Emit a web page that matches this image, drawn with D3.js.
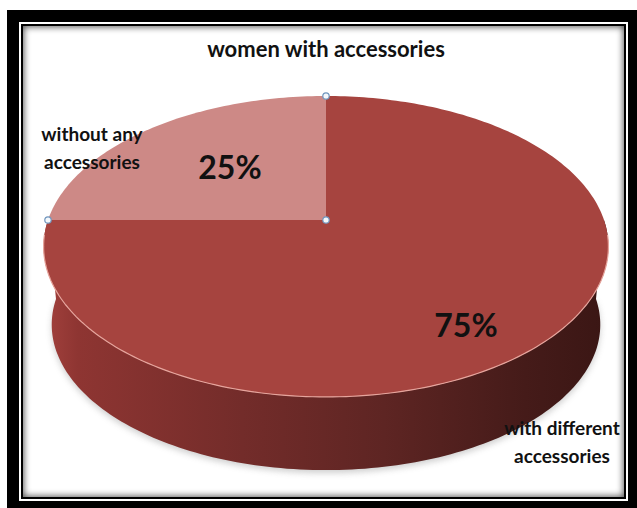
<!DOCTYPE html>
<meta charset="utf-8">
<style>
  body { margin: 0; background: #fff; }
  text { font-family: Lato, "Open Sans", sans-serif; font-weight: bold; fill: #111; }
</style>
<body>
<svg id="chart" width="637" height="508"></svg>
</body>
<script src="https://d3js.org/d3.v7.min.js"></script>
<script>

var categories = ["with different accessories", "without any accessories"];
var values = [75, 25];
var pctLabels = ["75%", "25%"];
var title = "women with accessories";

var svg = d3.select("#chart");
var defs = svg.append("defs");

// frame
svg.append("rect").attr("x", 7).attr("y", 10).attr("width", 630).attr("height", 498).attr("fill", "#000");
svg.append("rect").attr("x", 19).attr("y", 22).attr("width", 609).attr("height", 479).attr("fill", "#fff");
svg.append("rect").attr("x", 21).attr("y", 24).attr("width", 605).attr("height", 475).attr("fill", "#000");
svg.append("rect").attr("x", 23).attr("y", 26).attr("width", 601).attr("height", 471).attr("fill", "#fff");

defs.append("clipPath").attr("id", "inner")
  .append("rect").attr("x", 23).attr("y", 26).attr("width", 601).attr("height", 471);
defs.append("filter").attr("id", "blur").attr("x", "-10%").attr("y", "-10%").attr("width", "120%").attr("height", "120%")
  .append("feGaussianBlur").attr("stdDeviation", 3.5);
svg.append("g").attr("clip-path", "url(#inner)")
  .append("rect").attr("x", 20).attr("y", 23).attr("width", 607).attr("height", 477)
  .attr("fill", "none").attr("stroke", "#000").attr("stroke-width", 7)
  .attr("filter", "url(#blur)").attr("opacity", 0.75);

// perspective projection of the pie disc
var cx = 326, k = -0.176;
var faces = {
  top:    {y0: 220, a: 278, b: 145.8},
  bottom: {y0: 299, a: 270, b: 141}
};
function project(angle, r, face) {
  var f = faces[face];
  var u = r * Math.sin(angle), v = -r * Math.cos(angle), w = 1 + k * v;
  return [cx + f.a * u / w, f.y0 + f.b * v / w];
}
function arcPoints(a0, a1, face) {
  var n = Math.max(2, Math.ceil(Math.abs(a1 - a0) / 0.02));
  return d3.range(n + 1).map(function(i) { return project(a0 + (a1 - a0) * i / n, 1, face); });
}
var line = d3.line();

var pie = d3.pie().sort(null).value(function(d) { return d; });
var arcs = pie(values);

var topColors = ["#a6443f", "#cd8986"];

var grad = defs.append("linearGradient").attr("id", "side")
  .attr("gradientUnits", "userSpaceOnUse").attr("x1", 44).attr("x2", 610).attr("y1", 0).attr("y2", 0);
[[0, "#a3413d"], [0.06, "#8e3532"], [0.35, "#732c2a"], [0.6, "#5e2523"], [0.85, "#451b19"], [1, "#3a1614"]]
  .forEach(function(s) { grad.append("stop").attr("offset", s[0]).attr("stop-color", s[1]); });

defs.append("filter").attr("id", "shadow").attr("x", "-10%").attr("y", "-10%").attr("width", "120%").attr("height", "130%")
  .append("feGaussianBlur").attr("stdDeviation", 3);

var g = svg.append("g");

// soft shadow under the pie
var big = arcs[0];
var frontA0 = Math.PI / 2, frontA1 = Math.min(big.endAngle, 3 * Math.PI / 2);
g.append("path")
  .attr("d", line(arcPoints(frontA0, frontA1, "bottom").map(function(p) { return [p[0], p[1] + 3]; })) + "Z")
  .attr("fill", "#777").attr("opacity", 0.35).attr("filter", "url(#shadow)");

// side wall of the front slice
var sidePts = arcPoints(frontA0, frontA1, "top").concat(arcPoints(frontA1, frontA0, "bottom"));
g.append("path").attr("d", line(sidePts) + "Z").attr("fill", "url(#side)");

// top faces
arcs.forEach(function(d, i) {
  var pts = [project(0, 0, "top")].concat(arcPoints(d.startAngle, d.endAngle, "top"));
  g.append("path").attr("d", line(pts) + "Z").attr("fill", topColors[i]);
});

// light rim on front edge
g.append("path").attr("d", line(arcPoints(frontA0 + 0.1, frontA1 - 0.1, "top")))
  .attr("fill", "none").attr("stroke", "#e6a49c").attr("stroke-width", 1.2);

// selection handles on small slice
var small = arcs[1];
[project(small.startAngle, 1, "top"), project(small.endAngle, 1, "top"), project(0, 0, "top")]
  .forEach(function(p) {
    g.append("circle").attr("cx", p[0]).attr("cy", p[1]).attr("r", 3.2)
      .attr("fill", "#f4f8fc").attr("stroke", "#6f95bd").attr("stroke-width", 1.2);
  });

// text
svg.append("text").attr("x", 326).attr("y", 57).attr("text-anchor", "middle")
  .style("font-size", "22px").text(title);

var pctPos = [[466, 337], [230, 179]];
pctLabels.forEach(function(t, i) {
  svg.append("text").attr("x", pctPos[i][0]).attr("y", pctPos[i][1]).attr("text-anchor", "middle")
    .style("font-size", "32px").text(t);
});

var catLines = [["with different", "accessories"], ["without any", "accessories"]];
var catPos = [[562, 435], [92, 141]];
catLines.forEach(function(ls, i) {
  ls.forEach(function(t, j) {
    svg.append("text").attr("x", catPos[i][0]).attr("y", catPos[i][1] + j * 28).attr("text-anchor", "middle")
      .style("font-size", "19px").text(t);
  });
});
</script>
